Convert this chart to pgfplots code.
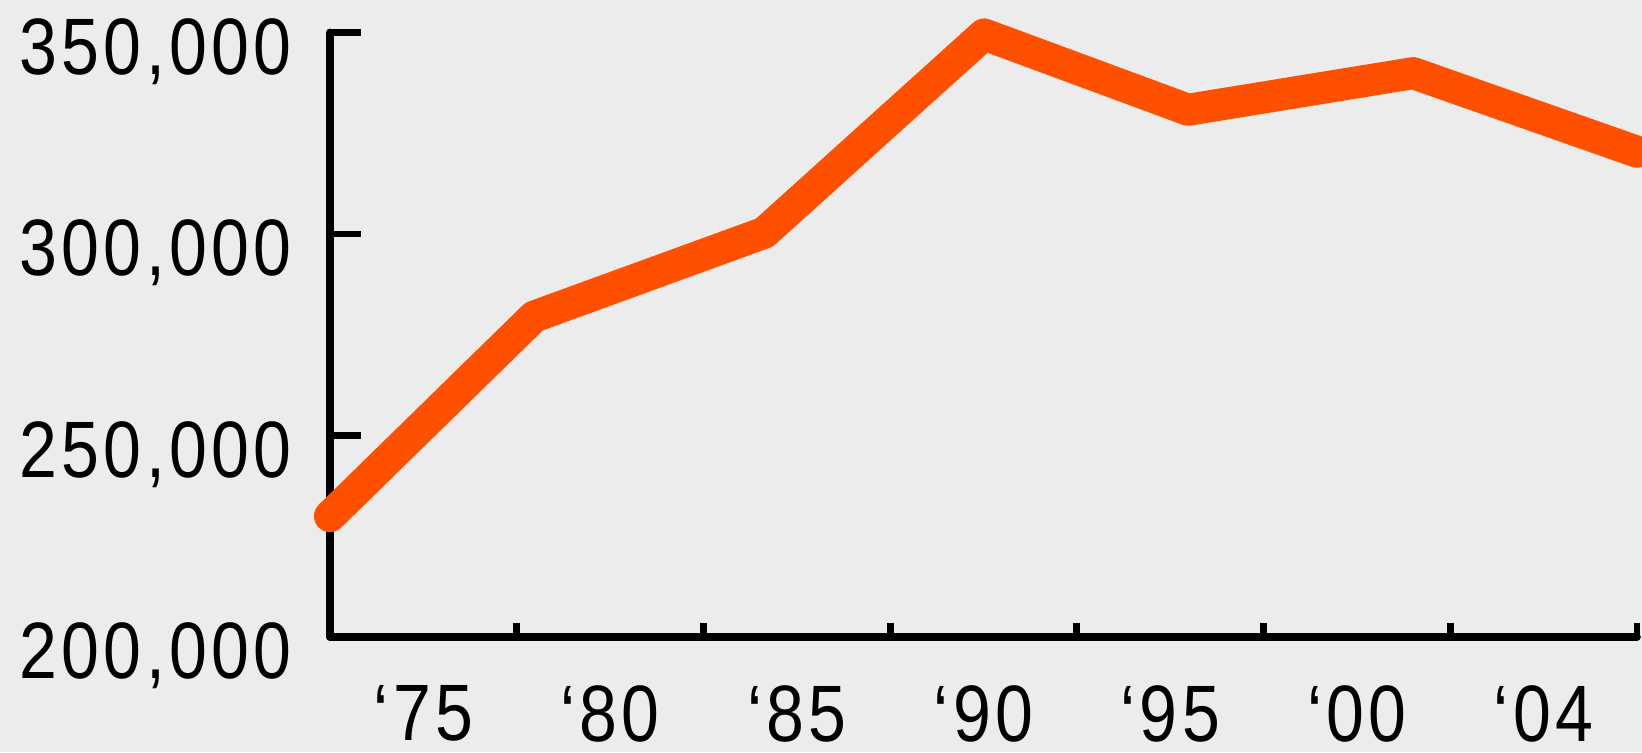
\documentclass[border=0pt]{standalone}
\usepackage{fontspec}
\setmainfont{Liberation Sans}[FakeStretch=0.85, LetterSpace=5.5]
\usepackage{pgfplots}
\pgfplotsset{compat=1.18}
\definecolor{bg}{HTML}{ECECEC}
\definecolor{lineor}{RGB}{255,80,0}
\begin{document}
\begin{tikzpicture}
\useasboundingbox (0,0) rectangle (821pt,376pt);
\fill[bg] (0,0) rectangle (821pt,376pt);
\begin{axis}[
  at={(165pt,57.5pt)}, anchor=south west,
  width=653.5pt, height=302.3pt, scale only axis,
  xmin=0, xmax=7, ymin=200000, ymax=350000,
  axis x line*=bottom, axis y line*=left,
  axis line style={black, line width=3.8pt, line cap=round},
  clip=false,
  scaled y ticks=false,
  tick align=inside,
  xtick={0,1,2,3,4,5,6,7},
  x tick label as interval,
  xticklabels={‘75,‘80,‘85,‘90,‘95,‘00,‘04},
  ytick={200000,250000,300000,350000},
  yticklabels={{200,000},{250,000},{300,000},{350,000}},
  xtick style={black, line width=3.4pt, /pgfplots/major tick length=7pt},
  ytick style={black, line width=3.4pt, /pgfplots/major tick length=15.7pt},
  tick label style={font=\fontsize{40pt}{44pt}\selectfont, inner sep=0pt},
  yticklabel style={anchor=east, xshift=-19pt, yshift=-9.5pt},
  xticklabel style={anchor=north, yshift=-24pt},
]
\addplot[lineor, line width=16pt, line join=round, line cap=round] coordinates {
  (0,230000) (1.093,279500) (2.326,300300) (3.503,349500) (4.596,330800) (5.801,339900) (7.0,320400)
};
\end{axis}
\end{tikzpicture}
\end{document}
